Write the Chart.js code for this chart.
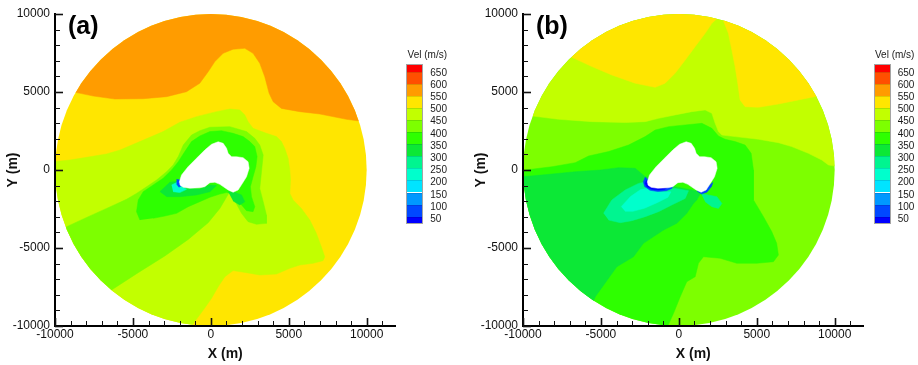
<!DOCTYPE html>
<html><head><meta charset="utf-8">
<script src="https://cdn.jsdelivr.net/npm/chart.js@4.4.1/dist/chart.umd.min.js"></script>
<style>
html,body{margin:0;padding:0;background:#fff;}
#page{position:relative;width:918px;height:365px;overflow:hidden;font-family:'Liberation Sans',Arial,sans-serif;}
canvas{position:absolute;top:0;}
.cbtitle,.cblabel{position:absolute;font-size:10px;line-height:12px;color:#1a1a1a;white-space:nowrap;}
.cbtitle{text-align:center;}
.cbbar{position:absolute;outline:1px solid rgba(90,90,90,0.55);}
.cbband{position:absolute;left:0;width:100%;}
</style></head>
<body><div id="page">
<canvas id="chartA" width="459" height="365" style="left:0;width:459px;height:365px"></canvas>
<canvas id="chartB" width="450" height="365" style="left:468px;width:450px;height:365px"></canvas>
</div>
<script>
// ---------- data ----------
const X_MIN = -10000, X_MAX = 11850, Y_MIN = -10000, Y_MAX = 10000;
const DOMAIN_RADIUS = 10000;
const X_LABEL_TICKS = [-10000, -5000, 0, 5000, 10000];
const Y_LABEL_TICKS = [-10000, -5000, 0, 5000, 10000];
const X_MINOR_TICKS = [-10000,-9000,-8000,-7000,-6000,-5000,-4000,-3000,-2000,-1000,0,1000,2000,3000,4000,5000,6000,7000,8000,9000,10000,11000];
const Y_MINOR_TICKS = [-10000,-9000,-8000,-7000,-6000,-5000,-4000,-3000,-2000,-1000,0,1000,2000,3000,4000,5000,6000,7000,8000,9000,10000];

// contour band lower bounds (m/s) and colours
const BAND_LOWER = [0, 50, 100, 150, 200, 250, 300, 350, 400, 450, 500, 550, 600, 650];
const BAND_COLORS = ['#0000ff','#0048ff','#0098ff','#00e4ff','#00ffcc','#00f590','#0ce836','#2eff00','#7dff00','#c2ff00','#ffe600','#ff9c00','#ff4f00','#ff0000'];
const COLORBAR_LABELS = [650, 600, 550, 500, 450, 400, 350, 300, 250, 200, 150, 100, 50];
const COLORBAR_TITLE = 'Vel (m/s)';

// whole computational domain (clipped to the circle of radius 10000 m)
const DOMAIN = [[-10600,-10600],[10600,-10600],[10600,10600],[-10600,10600]];
// island (no data)
const ISLAND = [[-2030,-790],[-1880,-320],[-1460,210],[-920,750],[-390,1280],[50,1650],[470,1810],[790,1710],[1010,1390],[1110,1070],[1330,850],[1650,850],[2070,790],[2390,530],[2460,110],[2290,-430],[2030,-850],[1750,-1280],[1430,-1430],[1110,-1280],[580,-920],[260,-790],[-60,-810],[-390,-1070],[-710,-1140],[-1350,-1170],[-1780,-1110],[-1990,-960]];

// panel (a) contour regions (x, y in m)
const A_ORANGE = [[-10600,5150],[-8610,4960],[-7540,4740],[-6160,4550],[-4340,4570],[-2840,4700],[-1560,5020],[-710,5560],[-170,6300],[260,6950],[790,7480],[1430,7740],[2180,7800],[2710,7480],[3140,6840],[3460,5980],[3740,4920],[4000,4380],[4530,3950],[5710,3740],[6990,3590],[8700,3250],[9380,3160],[10600,3050],[10600,10600],[-10600,10600]];
const A_YELLOWGREEN = [[-10600,480],[-9040,640],[-7970,810],[-6690,1030],[-5830,1280],[-4550,1820],[-3060,2460],[-1990,3060],[-920,3420],[360,3740],[1220,3910],[1860,3850],[2180,3530],[2390,3100],[2710,2670],[3570,2350],[4210,2140],[4530,1820],[4740,1390],[4960,750],[5070,0],[5110,-640],[5070,-1500],[5280,-1920],[5810,-2460],[6350,-3210],[6770,-4060],[7090,-4920],[7310,-5560],[7200,-5810],[6560,-5980],[5710,-6090],[5070,-6300],[4210,-6670],[3140,-6730],[2290,-6580],[1430,-6450],[900,-6840],[470,-7480],[40,-8230],[-450,-8930],[-880,-9510],[-1240,-10000],[-1400,-10600],[-10600,-10600]];
const A_LIGHTGREEN = [[-9890,-3950],[-9250,-3630],[-7970,-3040],[-6690,-2460],[-5410,-1880],[-4770,-1500],[-4120,-1070],[-3480,-640],[-2840,-110],[-2420,320],[-2090,860],[-1770,1600],[-1240,2240],[-710,2520],[-60,2740],[1220,2780],[2290,2460],[2820,2030],[3140,1600],[3360,960],[3250,-110],[3140,-1180],[3360,-2030],[3570,-2890],[3570,-3420],[2930,-3480],[2390,-3310],[1970,-2780],[1650,-2180],[1390,-1710],[1180,-1450],[900,-1920],[580,-2460],[-170,-3380],[-1450,-4450],[-2950,-5510],[-4660,-6580],[-6370,-7690],[-6800,-8120]];
const A_GREEN = [[-4550,-3210],[-4770,-2670],[-4660,-1920],[-4340,-1390],[-3700,-960],[-3060,-530],[-2520,0],[-2090,530],[-1670,1180],[-1240,1820],[-710,2180],[-60,2460],[680,2520],[1430,2350],[2070,2140],[2500,1820],[2820,1500],[2970,860],[2890,210],[2710,-430],[2540,-1070],[2610,-1710],[2820,-2350],[2710,-2670],[2290,-2610],[1970,-2240],[1690,-1820],[1430,-1500],[1000,-1450],[580,-1540],[-60,-1750],[-710,-2030],[-1450,-2350],[-2200,-2780],[-2950,-2950],[-3700,-3100]];
const A_GREEN2_LEFT = [[-3270,-1390],[-2630,-790],[-2030,-710],[-1560,-1180],[-710,-1220],[-60,-960],[360,-1000],[-60,-1390],[-920,-1600],[-1990,-1710],[-2840,-1710]];
const A_GREEN2_RIGHT = [[1110,-1390],[1540,-1430],[1970,-1600],[2180,-2030],[1860,-2240],[1430,-1990]];
const A_AQUA_TIP = [[-2520,-960],[-2090,-750],[-1880,-1070],[-1560,-1240],[-1990,-1450],[-2420,-1390]];
const A_BLUE_TIP = [[-2200,-600],[-1900,-650],[-1850,-1000],[-2050,-1100],[-2200,-900]];

// panel (b) contour regions (x, y in m)
const B_YELLOWGREEN = [[-9960,3530],[-9380,3460],[-7720,3250],[-5580,3100],[-3440,3040],[-2160,3100],[-1300,3310],[-240,3530],[830,3740],[1690,3850],[2120,3630],[2330,2990],[2540,2460],[2760,2240],[3610,2140],[5110,1970],[6390,1750],[7240,1500],[8310,1070],[9170,640],[9600,320],[10600,150],[10600,10600],[-10600,10600],[-10600,3550]];
const B_YELLOW_LEFT = [[-7290,7480],[-6860,7220],[-5580,6630],[-4300,6090],[-2800,5560],[-1520,5300],[-880,5560],[-240,6200],[410,7050],[1050,7910],[1690,8760],[2120,9400],[2440,9700],[2760,10600],[-10600,10600],[-10600,7480]];
const B_YELLOW_RIGHT = [[2760,10260],[2860,9570],[3180,8760],[3400,7690],[3610,6630],[3780,5560],[3930,4490],[4250,4060],[5110,4020],[6390,4230],[7670,4490],[8700,4700],[9380,4830],[10600,4700],[10600,10600],[2760,10600]];
const B_GREEN = [[-10490,-110],[-9850,0],[-8140,210],[-6650,470],[-5790,900],[-4510,1180],[-3230,1600],[-2160,2140],[-1520,2560],[-660,2780],[410,2890],[1480,2990],[2120,2670],[2540,2180],[2970,1970],[3610,1820],[4250,1600],[4640,1070],[4790,0],[4790,-1920],[5430,-2990],[5960,-3950],[6280,-4700],[6390,-5450],[6070,-5880],[5000,-5980],[3720,-5980],[2650,-5660],[1580,-5560],[1260,-5980],[1050,-6840],[510,-7160],[90,-8120],[-340,-9190],[-710,-10000],[-800,-10600],[-10600,-10600]];
const B_GREEN2 = [[-10280,-430],[-9530,-390],[-8140,-260],[-6650,-110],[-5020,0],[-3870,150],[-2800,110],[-2160,-430],[-1300,-640],[-240,-1070],[830,-1280],[1430,-1430],[1150,-1920],[940,-2140],[510,-2780],[-130,-3420],[-980,-3850],[-2270,-4700],[-2910,-5560],[-3980,-6200],[-5360,-8120],[-5680,-8870],[-10600,-10600]];
const B_SPRING = [[-4830,-2780],[-4300,-1920],[-3440,-1280],[-2590,-860],[-2050,-750],[-1300,-1280],[-240,-1180],[620,-1330],[410,-1820],[-450,-2240],[-1300,-2670],[-2160,-2990],[-3010,-3250],[-3760,-3380],[-4510,-3210]];
const B_AQUA = [[-3700,-2350],[-3100,-1700],[-2450,-1250],[-1900,-1150],[-1200,-1400],[-500,-1400],[-700,-1750],[-1400,-2100],[-2200,-2450],[-2950,-2650],[-3450,-2650]];
const B_SPRING_RIGHT = [[1430,-1500],[1900,-1600],[2440,-1710],[2760,-2140],[2540,-2460],[2120,-2350],[1690,-2030]];
const B_BLUE_LEFT = [[-2150,-450],[-2280,-750],[-2200,-1050],[-1850,-1300],[-1350,-1380],[-800,-1330],[-450,-1180],[-390,-1070],[-710,-1000],[-1400,-1000],[-1900,-850],[-2000,-600]];
const B_DARKBLUE_LEFT = [[-2080,-650],[-2170,-850],[-2050,-1080],[-1750,-1230],[-1300,-1280],[-900,-1230],[-710,-1100],[-1400,-1050],[-1900,-900]];
const B_BLUE_RIGHT = [[1150,-1330],[1450,-1540],[1800,-1420],[2100,-1050],[2180,-800],[1800,-1100],[1400,-1350]];

// layer stacks: [region, band lower bound (null = no data)], bottom first
const PANEL_A_LAYERS = [[DOMAIN,500],[A_ORANGE,550],[A_YELLOWGREEN,450],[A_LIGHTGREEN,400],[A_GREEN,350],[A_GREEN2_LEFT,300],[A_GREEN2_RIGHT,300],[A_AQUA_TIP,200],[A_BLUE_TIP,50],[ISLAND,null]];
const PANEL_B_LAYERS = [[DOMAIN,400],[B_YELLOWGREEN,450],[B_YELLOW_LEFT,500],[B_YELLOW_RIGHT,500],[B_GREEN,350],[B_GREEN2,300],[B_SPRING,250],[B_AQUA,200],[B_SPRING_RIGHT,250],[B_BLUE_LEFT,50],[B_DARKBLUE_LEFT,0],[B_BLUE_RIGHT,50],[ISLAND,null]];

// ---------- rendering ----------
const FONT = "'Liberation Sans', Arial, sans-serif";

const circleClip = {
  id: 'circleClip',
  beforeDatasetsDraw(chart) {
    const {ctx, scales: {x, y}} = chart;
    const cx = x.getPixelForValue(0), cy = y.getPixelForValue(0);
    const rx = x.getPixelForValue(DOMAIN_RADIUS) - cx;
    const ry = cy - y.getPixelForValue(DOMAIN_RADIUS);
    ctx.save();
    ctx.beginPath();
    ctx.ellipse(cx, cy, rx, ry, 0, 0, Math.PI * 2);
    ctx.clip();
  },
  afterDatasetsDraw(chart) { chart.ctx.restore(); }
};

const tickMarks = {
  id: 'tickMarks',
  afterDraw(chart) {
    const {ctx, chartArea: a, scales: {x, y}} = chart;
    ctx.save();
    ctx.strokeStyle = '#111';
    X_MINOR_TICKS.forEach(v => {
      const major = X_LABEL_TICKS.includes(v);
      const px = Math.round(x.getPixelForValue(v)) + 0.5;
      ctx.lineWidth = major ? 1.6 : 1;
      ctx.beginPath(); ctx.moveTo(px, a.bottom); ctx.lineTo(px, a.bottom - (major ? 8 : 5)); ctx.stroke();
    });
    Y_MINOR_TICKS.forEach(v => {
      const major = Y_LABEL_TICKS.includes(v);
      const py = Math.round(y.getPixelForValue(v)) + 0.5;
      ctx.lineWidth = major ? 1.6 : 1;
      ctx.beginPath(); ctx.moveTo(a.left, py); ctx.lineTo(a.left + (major ? 8 : 5), py); ctx.stroke();
    });
    ctx.restore();
  }
};

const panelDecor = {
  id: 'panelDecor',
  afterDraw(chart, args, opts) {
    const {ctx, chartArea: a} = chart;
    ctx.save();
    ctx.font = 'bold 25px ' + FONT;
    ctx.fillStyle = '#000';
    ctx.textBaseline = 'alphabetic';
    ctx.textAlign = 'left';
    ctx.fillText(opts.label, a.left + 13, 34);
    ctx.restore();
  }
};

function bandColor(band) {
  return band === null ? '#ffffff' : BAND_COLORS[BAND_LOWER.indexOf(band)];
}

function makeChart(id, layers, label, padRight) {
  const n = layers.length;
  const datasets = layers.map(([poly, band], i) => {
    const c = bandColor(band);
    return {
      data: poly.map(([x, y]) => ({x, y})),
      showLine: true, fill: 'shape',
      backgroundColor: c, borderColor: c, borderWidth: 0.5,
      pointRadius: 0, pointHoverRadius: 0, tension: 0,
      order: n - i
    };
  });
  const tickFont = {family: FONT, size: 12};
  const titleFont = {family: FONT, size: 14, weight: 'bold', lineHeight: 1.2};
  return new Chart(document.getElementById(id), {
    type: 'scatter',
    data: {datasets},
    options: {
      responsive: false, animation: false, events: [],
      layout: {padding: {top: 14, right: padRight, bottom: 0, left: 0}},
      plugins: {legend: {display: false}, tooltip: {enabled: false}, panelDecor: {label}},
      scales: {
        x: {
          type: 'linear', min: X_MIN, max: X_MAX,
          grid: {display: false, drawTicks: false},
          border: {display: true, color: '#000', width: 2, z: 1},
          ticks: {font: tickFont, color: '#111', padding: 1, maxRotation: 0, autoSkip: false, callback: v => String(v)},
          afterBuildTicks: s => { s.ticks = X_LABEL_TICKS.map(v => ({value: v})); },
          afterFit: s => { s.height = 39; },
          title: {display: true, text: 'X (m)', font: titleFont, color: '#111', padding: {top: 0, bottom: 2.6}}
        },
        y: {
          type: 'linear', min: Y_MIN, max: Y_MAX,
          grid: {display: false, drawTicks: false},
          border: {display: true, color: '#000', width: 2, z: 1},
          ticks: {font: tickFont, color: '#111', padding: 5, autoSkip: false, callback: v => String(v)},
          afterBuildTicks: s => { s.ticks = Y_LABEL_TICKS.map(v => ({value: v})); },
          afterFit: s => { s.width = 55; },
          title: {display: true, text: 'Y (m)', font: titleFont, color: '#111', padding: {top: 4.6, bottom: 0}}
        }
      }
    },
    plugins: [circleClip, tickMarks, panelDecor]
  });
}

function buildColorbar(barLeft) {
  const page = document.getElementById('page');
  const top = 65, bottom = 223, first = 71.7, step = 12.08, labelStep = 12.19, width = 15;
  const title = document.createElement('div');
  title.className = 'cbtitle';
  title.textContent = COLORBAR_TITLE;
  Object.assign(title.style, {left: (barLeft - 20) + 'px', width: '80px', top: '48.5px'});
  page.appendChild(title);
  const bar = document.createElement('div');
  bar.className = 'cbbar';
  Object.assign(bar.style, {left: barLeft + 'px', top: top + 'px', width: width + 'px', height: (bottom - top) + 'px'});
  const edges = [top].concat(COLORBAR_LABELS.map((v, i) => first + i * step)).concat([bottom]);
  for (let k = 0; k < edges.length - 1; k++) {
    const lower = k < COLORBAR_LABELS.length ? COLORBAR_LABELS[k] : 0;
    const d = document.createElement('div');
    d.className = 'cbband';
    Object.assign(d.style, {top: (edges[k] - top) + 'px', height: (edges[k + 1] - edges[k]) + 'px', background: bandColor(lower)});
    if (k > 0) d.style.boxShadow = 'inset 0 1px 0 rgba(0,0,0,0.12)';
    bar.appendChild(d);
  }
  page.appendChild(bar);
  COLORBAR_LABELS.forEach((v, i) => {
    const l = document.createElement('div');
    l.className = 'cblabel';
    l.textContent = String(v);
    Object.assign(l.style, {left: (barLeft + 23) + 'px', top: (first + i * labelStep + 1 - 6) + 'px'});
    page.appendChild(l);
  });
}

makeChart('chartA', PANEL_A_LAYERS, '(a)', 63.5);
makeChart('chartB', PANEL_B_LAYERS, '(b)', 54.5);
buildColorbar(407.3);
buildColorbar(874.7);
</script></body></html>
